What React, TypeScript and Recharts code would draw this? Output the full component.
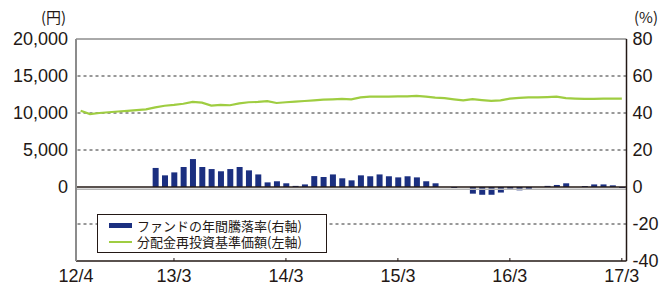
import React from "react";
import { Bar, ComposedChart, Legend, Line, ReferenceLine, XAxis, YAxis } from "recharts";

const INK = "#231815";
const NAVY = "#1b2f80";
const GREEN = "#9fcd41";
const NUM_FONT = '"Liberation Sans", Arial, sans-serif';
const JP_FONT = '"Noto Sans CJK JP", "Noto Sans", sans-serif';

// month-end points, 12/5 .. 17/3
const MONTHS = [
  "12/5", "12/6", "12/7", "12/8", "12/9", "12/10", "12/11", "12/12",
  "13/1", "13/2", "13/3", "13/4", "13/5", "13/6", "13/7", "13/8", "13/9", "13/10", "13/11", "13/12",
  "14/1", "14/2", "14/3", "14/4", "14/5", "14/6", "14/7", "14/8", "14/9", "14/10", "14/11", "14/12",
  "15/1", "15/2", "15/3", "15/4", "15/5", "15/6", "15/7", "15/8", "15/9", "15/10", "15/11", "15/12",
  "16/1", "16/2", "16/3", "16/4", "16/5", "16/6", "16/7", "16/8", "16/9", "16/10", "16/11", "16/12",
  "17/1", "17/2", "17/3",
];

// 分配金再投資基準価額 (円)
const NAV = [
  10300, 9850, 10000, 10100, 10200, 10300, 10400, 10500,
  10750, 10980, 11100, 11250, 11500, 11400, 11000, 11100, 11050, 11300, 11450, 11500,
  11600, 11350, 11450, 11550, 11620, 11700, 11800, 11850, 11900, 11850, 12100, 12200,
  12200, 12200, 12250, 12250, 12320, 12200, 12080, 12000, 11850, 11700, 11870, 11750,
  11650, 11700, 11950, 12050, 12100, 12100, 12150, 12200, 12000, 11950, 11900, 11900,
  11950, 11950, 11950,
];

// ファンドの年間騰落率 (%)
const RETURN_PCT: (number | null)[] = [
  null, null, null, null, null, null, null, null,
  10.3, 6.3, 7.9, 10.8, 15.1, 10.8, 9.7, 8.5, 9.7, 10.8, 9.0, 6.8,
  2.5, 3.1, 2.0, 0.6, 1.4, 5.9, 5.4, 6.8, 4.7, 3.6, 6.3, 5.8,
  6.8, 5.8, 5.2, 5.8, 5.2, 3.1, 2.0, 0, -0.5, 0, -3.6, -4.2,
  -4.2, -3.0, -0.9, -1.8, -1.3, 0, 0.6, 1.1, 2.0, 0, 0.5, 1.4,
  1.4, 0.9, -0.5,
];

const START_LABEL = "12/4";
const X_TICK_LABELS = ["13/3", "14/3", "15/3", "16/3", "17/3"];
const YEN_TICKS = [0, 5000, 10000, 15000, 20000];
const PCT_TICKS = [-40, -20, 0, 20, 40, 60, 80];
const DASHED_PCT = [-20, 20, 40, 60];

const data = MONTHS.map((month, i) => ({ i, month, nav: NAV[i], ret: RETURN_PCT[i] }));
const xTicks = [-0.5, ...X_TICK_LABELS.map((t) => MONTHS.indexOf(t))];

function XTick(props: any) {
  const { x, y, payload } = props;
  const v = Number(payload?.value);
  const label = v < 0 ? START_LABEL : MONTHS[v];
  return (
    <g>
      {v >= 0 && <line x1={x} x2={x} y1={y} y2={y - 3} stroke={INK} strokeWidth={1} />}
      <text x={x} y={y + 20.5} textAnchor="middle" fontSize={18} fill={INK} fontFamily={NUM_FONT}>
        {label}
      </text>
    </g>
  );
}

function LegendBox({ payload }: any) {
  return (
    <div
      style={{
        width: 230,
        height: 39,
        boxSizing: "border-box",
        border: `1px solid ${INK}`,
        background: "#fff",
        padding: "3px 0 0 11px",
        fontFamily: JP_FONT,
        fontSize: 13,
        lineHeight: "15px",
        color: INK,
      }}
    >
      {(payload ?? []).map((item: any) => (
        <div key={item.value} style={{ display: "flex", alignItems: "center", height: 15.7, whiteSpace: "nowrap" }}>
          <span
            style={{
              display: "inline-block",
              width: 23,
              height: item.type === "line" ? 2 : 5,
              background: item.color,
            }}
          />
          <span style={{ marginLeft: 5 }}>{item.value}</span>
        </div>
      ))}
    </div>
  );
}

export default function App() {
  return (
    <div style={{ position: "absolute", left: 0, top: 0, width: 663, height: 284, background: "#fff" }}>
      <span
        style={{ position: "absolute", left: 41, top: 8, fontFamily: JP_FONT, fontSize: 15, lineHeight: "18px", color: INK }}
      >
        (円)
      </span>
      <span
        style={{ position: "absolute", left: 634, top: 8, fontFamily: JP_FONT, fontSize: 15, lineHeight: "18px", color: INK }}
      >
        (%)
      </span>
      <ComposedChart width={663} height={284} data={data} margin={{ top: 39, right: 6, bottom: 1, left: 8 }}>
        <XAxis
          dataKey="i"
          type="number"
          domain={[-0.5, 58.5]}
          ticks={xTicks}
          interval={0}
          tickSize={0}
          tickMargin={0}
          tickLine={false}
          height={22}
          axisLine={{ stroke: INK, strokeWidth: 1.5 }}
          tick={<XTick />}
        />
        <YAxis
          yAxisId="yen"
          orientation="left"
          width={68}
          domain={[-10000, 20000]}
          ticks={YEN_TICKS}
          interval={0}
          tickLine={false}
          axisLine={{ stroke: "#8c8c8c", strokeWidth: 2 }}
          tick={{ fontSize: 18, fill: INK, fontFamily: NUM_FONT }}
          tickFormatter={(v: number) => v.toLocaleString("en-US")}
        />
        <YAxis
          yAxisId="pct"
          orientation="right"
          width={30.5}
          domain={[-40, 80]}
          ticks={PCT_TICKS}
          interval={0}
          tickLine={false}
          tickSize={4}
          tickMargin={2}
          axisLine={{ stroke: INK, strokeWidth: 1.5 }}
          tick={{ fontSize: 18, fill: INK, fontFamily: NUM_FONT, textAnchor: "start" }}
        />
        {DASHED_PCT.map((v) => (
          <ReferenceLine key={v} yAxisId="pct" y={v} stroke="#333" strokeWidth={1} strokeDasharray="3 3" />
        ))}
        <ReferenceLine yAxisId="pct" y={80} stroke="#555" strokeWidth={1} />
        <ReferenceLine yAxisId="pct" y={-1.2} stroke="#b5b5b5" strokeWidth={1.5} />
        <Bar
          yAxisId="pct"
          dataKey="ret"
          name="ファンドの年間騰落率(右軸)"
          fill={NAVY}
          barSize={6}
          isAnimationActive={false}
        />
        <Line
          yAxisId="yen"
          dataKey="nav"
          name="分配金再投資基準価額(左軸)"
          type="linear"
          stroke={GREEN}
          strokeWidth={2.2}
          dot={false}
          activeDot={false}
          isAnimationActive={false}
        />
        <ReferenceLine yAxisId="pct" y={0} stroke={INK} strokeWidth={1.5} />
        <Legend
          layout="vertical"
          verticalAlign="middle"
          align="center"
          wrapperStyle={{ left: 97, top: 214, width: 230, height: 39 }}
          content={(p: any) => <LegendBox {...p} />}
        />
      </ComposedChart>
    </div>
  );
}
